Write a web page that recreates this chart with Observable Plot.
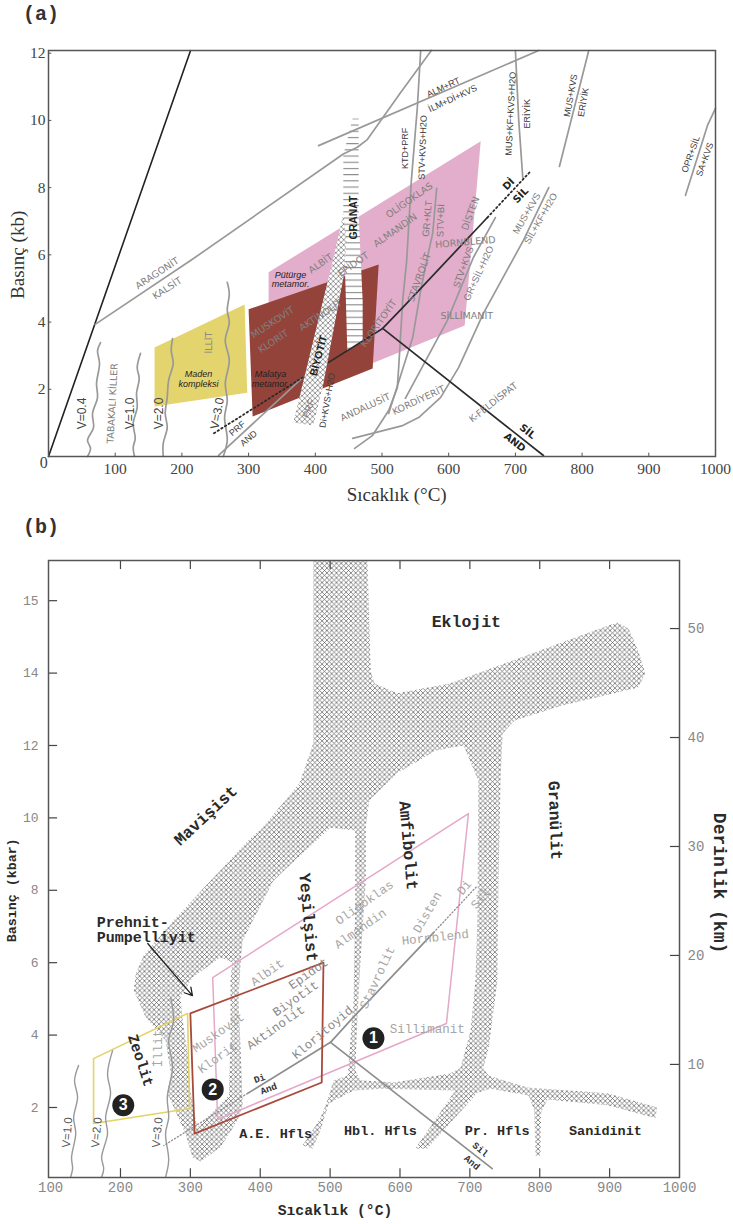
<!DOCTYPE html>
<html><head><meta charset="utf-8">
<script src="https://cdn.jsdelivr.net/npm/d3@7"></script>
<script src="https://cdn.jsdelivr.net/npm/@observablehq/plot@0.6"></script>
<style>
body{margin:0;background:#fff;width:733px;height:1224px;position:relative;overflow:hidden}
#a,#b{position:absolute;left:0}
#a{top:0}#b{top:510px}
.tag{position:absolute;left:23px;font:bold 20px "Liberation Mono",monospace;color:#333;line-height:22px}
</style></head><body>
<div id="a"></div><div id="b"></div>
<div class="tag" style="top:4px">(a)</div>
<div class="tag" style="top:517px">(b)</div>
<script>
// ---------- Panel (a): [T °C, P kb] ----------
const aXTicks=[100,200,300,400,500,600,700,800,900,1000];
const aYTicks=[2,4,6,8,10,12];
const aPink=[[330,5.48],[648,9.38],[624,3.9],[330,1.51]];
const aBrown=[[300,4.38],[495,5.71],[486,2.62],[306,1.19]];
const aYellow=[[159,3.24],[294,4.52],[298,1.9],[159,1.49]];
const aBiotite=[[367,1.01],[397,.92],[411,2.05],[442,5.3],[447,6.43],[442,7.23],[427,5.89]];
const aGarnet=[[456,10.06],[465,10.06],[465,7.17],[471,4.64],[471,3.45],[448,3.15],[445,5.24],[442,7.17],[442,8.96]];
const aBlackLine=[[0,0],[213,12.08]];
const aGrayLines=[
 [[70,3.93],[213,5.83],[442,9.0],[463,9.2],[478,9.43],[528,10.83],[574,12.08]],
 [[405,9.25],[735,12.08]],
 [[558,12.08],[553,10.39],[544,8.21],[537,5.83],[531,4.64],[525,2.65],[523,2.05],[510,1.37],[486,.63],[459,.24]],
 [[582,7.98],[576,6.64],[567,5.83],[558,4.94],[546,3.54],[528,2.41],[510,1.28]],
 [[670,7.11],[637,5.92],[598,4.05],[535,1.73]],
 [[750,8.0],[712,6.43],[652,4.26],[615,2.65],[588,1.76],[555,1.16],[531,.92],[456,.54]],
 [[700,12.08],[705,10.0],[711,8.3]],
 [[810,12.08],[766,8.63]],
 [[1000,10.36],[988,9.85],[955,7.77]],
 [[381,2.35],[255,.03]]
];
const aWaves=[
 [[78,3.39],[73.5,3.15],[76.5,2.77],[72,2.17],[73.5,1.76],[66,1.28],[67.5,.86],[58.5,.48],[63,.24],[58.5,0]],
 [[138,3.07],[133,2.65],[136,2.32],[132,1.88],[133,1.46],[127,.98],[130,.54],[127,.27],[129,0]],
 [[186,3.51],[184,3.15],[187,2.77],[180,2.26],[178,1.76],[175,1.28],[178,.86],[172,.39],[172,0]],
 [[268,5.18],[271,4.85],[268,4.35],[271,3.99],[265,3.45],[271,2.86],[265,2.17],[268,1.67],[264,1.16],[268,.48],[262,0]]
];
const aReactionBlack=[
 [[420,2.8],[501,3.81],[531,4.43],[658,7.11]],
 [[501,3.81],[742,.03]]
];
const aReactionDotted=[
 [[658,7.11],[721,8.45]],
 [[381,2.35],[247,.68]]
];
const aGrayText=[
 ["ARAGONİT",163,5.45,-33],["KALSİT",178,5.0,-33],["TABAKALI KİLLER",96,1.58,-87],["İLLİT",240,3.39,-90],
 ["MUSKOVİT",336,3.99,-33],["KLORİT",337,3.42,-33],["AKTİNOLİT",408,4.2,-33],["ALBİT",408,5.74,-35],
 ["EPİDOT",457,5.71,-35],["ALMANDİN",520,6.73,-35],["OLİGOKLAS",541,7.62,-35],["KLORİTOYİT",495,3.96,-55],
 ["ANDALUSİT",475,1.46,-25],["KORDİYERİT",555,1.67,-25],["K-FELDİSPAT",667,1.61,-38],["SİLLİMANİT",627,4.17,0],
 ["STAVROLİT",556,5.33,-70],["DİSTEN",633,7.23,-70],["HORNBLEND",625,6.37,-5]
];
const aNarrowGray=[
 ["GR+KLT",568,7.08,-85],["STV+Bİ",588,7.02,-88],["STV+KVS",622,5.63,-70],["GR+SİL+H2O",645,5.45,-65],
 ["MUS+KVS",717,7.23,-60],["SİL+KF+H2O",738,7.08,-60],["PRF",390,1.43,-70]
];
const aVText=[["V=0.4",51,1.28,-90],["V=1.0",122,1.28,-90],["V=2.0",166,1.28,-90],["V=3.0",253,1.28,-80]];
const aDarkText=[
 ["Di+KVS+H2O",418,1.67,-80],["PRF",283,.83,-40],["AND",300,.54,-40],
 ["KTD+PRF",535,9.17,-90],["STV+KVS+H2O",561,9.2,-88],["ALM+RT",592,10.98,-25],["İLM+Dİ+KVS",606,10.65,-25],
 ["MUS+KF+KVS+H2O",693,10.2,-87],["ERİYİK",717,10.2,-90],["MUS+KVS",783,10.74,-80],["ERİYİK",802,10.54,-80],
 ["OPR+SİL",963,8.99,-70],["SA+KVS",984,8.84,-70]
];
const aBandText=[["BİYOTİT",405,3.0,-75],["GRANAT",457,7.11,-90]];
const aBoldText=[["Dİ",690,8.1,-45],["SİL",708,7.77,-45],["SİL",718,.74,38],["AND",699,.42,38]];
const aItalicText=[["Maden\nkompleksi",225,2.32,0],["Malatya\nmetamor.",333,2.3,0],["Pütürge\nmetamor.",363,5.27,0]];
const aAxisTitles=[["Sıcaklık (°C)",522,-1.13,0],["Basınç (kb)",-46,6,-90]];
const aZero=[["0",-7,-.2,0]];

// ---------- Panel (b): [T °C, P kbar] ----------
const bXTicks=[100,200,300,400,500,600,700,800,900,1000];
const bInnerXTicks=[200,300,400,500,600,700,800,900];
const bYTicks=[2,4,6,8,10,12,14,16];
const bYLabels=[2,4,6,8,10,12,14,15];
const bDepthLabels=[10,20,30,40,50];
const bDepthAtP=[3.19,6.2,9.21,12.22,15.23];
const bHatch=[[476,17.11],[553.5,17.11],[558,14.07],[563.5,13.71],[596,13.44],[671,13.71],[897,15.31],[911,15.4],[927,15.23],[941,14.62],[951,13.99],[941,13.6],[831,13.1],[764,12.69],[747,12.33],[744,11.12],[741,8.27],[739.5,5.51],[727,3.66],[719,3.08],[727,2.88],[782,2.55],[897,2.39],[968,2.0],[965.5,1.7],[897,2.06],[811,2.22],[802,1.86],[801,.67],[794,.67],[792,1.92],[784,2.33],[729.5,2.52],[711,2.41],[639,.87],[622,.87],[679,2.47],[576,2.52],[533.5,2.47],[498,2.11],[486,1.36],[475,.87],[460.5,.95],[486,1.7],[496,2.19],[505,2.75],[525,2.88],[529,3.85],[533.5,4.96],[536,7.72],[536,9.65],[500.5,9.73],[476,9.29],[419,8.27],[375,6.61],[372,6.06],[369,4.96],[372,3.57],[375,2.06],[367.5,1.64],[343,.9],[314.6,.51],[303,.62],[293,1.28],[267,2.39],[272,2.94],[264.5,3.85],[236,4.49],[219,5.23],[222,5.7],[233,6.2],[276,7.17],[383,9.38],[403,9.73],[456,10.95],[476,12.06]];
const bHoleLeft=[[343,6.14],[360,6.01],[357.5,5.51],[357.5,3.85],[355,2.33],[310,1.45],[300,2.47],[296,3.49],[289,4.4],[286,5.04],[303,5.59]];
const bHoleAmphibolite=[[691,12.0],[651,11.86],[596,11.23],[556,10.48],[551,9.73],[551,8.27],[543.5,6.06],[539,4.4],[536,3.02],[543.5,2.75],[591,2.69],[672,2.94],[686.5,3.1],[701,4.13],[708,5.51],[711,7.36],[712,11.03]];
const bYellow=[[161.5,3.35],[296,4.6],[299,1.97],[161.5,1.56]];
const bBrown=[[300,4.6],[490.5,6.0],[488,2.69],[306,1.28]];
const bPink=[[332,5.59],[698,10.12],[666.5,4.32],[339,1.67]];
const bSolid=[
 [[382,2.39],[500.6,3.8],[533,4.49],[648,6.83]],
 [[500.6,3.8],[732,.31]]
];
const bDotted=[
 [[648,6.83],[711,8.13]],
 [[382,2.39],[262,.95]]
];
const bWaves=[
 [[140,3.16],[134.3,2.75],[138.6,2.28],[133,1.72],[136,1.28],[130,.62],[131.5,.31],[128.6,.07]],
 [[188.7,3.57],[181.5,2.94],[185.8,2.39],[178.7,1.72],[181.5,1.28],[173,.62],[176,.31],[173,.07]],
 [[271.7,5.04],[276,4.4],[269,3.85],[274.5,3.1],[267,2.28],[269,1.72],[264.5,1.28],[269,.54],[264.5,.07]]
];
const bArrow=[[239,6.53,303,5.09]];
const bBigText=[["Eklojit",695,15.43,0],["Mavişist",322,10.07,-43],["Amfibolit",612,9.24,85],["Granülit",822,9.93,88],["Yeşilşist",469,7.25,85]];
const bMidText=[["Zeolit",229,3.3,72]];
const bZoneText=[["A.E. Hfls",422,1.28,0],["Hbl. Hfls",572,1.36,0],["Pr. Hfls",739,1.36,0],["Sanidinit",894,1.36,0]];
const bPrehnite=[["Prehnit-\nPumpelliyit",166,6.92,0]];
const bSmallBold=[["Sil",715,.84,40],["And",703,.48,40],["Di",399,2.8,-20],["And",412,2.52,-20]];
const bGrayText=[
 ["Albit",410,5.73,-35],["Muskovit",340,4.07,-35],["Klorit",339,3.38,-35],
 ["Oligoklas",549,7.66,-35],["Almandin",543,6.94,-35],["Stavrolit",567.5,5.59,-65],["Hornblend",650.5,6.7,-6],
 ["Disten",639,7.39,-60],["Di",692,8.08,-50],["Sil",715,7.77,-50],["Sillimanit",639,4.18,0],["İllit",253,3.63,-90]
];
const bMidGrayText=[["Aktinolit",422,4.21,-35],["Biyotit",450.5,5.01,-35],["Epidot",469,5.7,-35],["Kloritoyid",489,4.07,-40]];
const bVText=[["V=1.0",124,1.31,-85],["V=2.0",166,1.31,-85],["V=3.0",253,1.31,-85]];
const bBadges=[["1",562,3.91],["2",332,2.5],["3",204,2.06]];
const bXTitle=[["Sıcaklık (°C)",507,-.85,0]];
const bYTitle=[["Basınç (kbar)",45,8.0,-90]];
const bDepthTitle=[["Derinlik (km)",1058,8.2,90]];

const SANS='"Liberation Sans",Arial,sans-serif', MONO='"Liberation Mono",monospace', SERIF='"Liberation Serif",serif', WIDE='"DejaVu Sans",sans-serif';
const label=(rows,o)=>Plot.text(rows,{x:d=>d[1],y:d=>d[2],text:d=>d[0],rotate:d=>d[3],...o});
const poly=(pts,o)=>Plot.line(pts,{curve:"linear-closed",...o});
const series=(list,o)=>list.map(pts=>Plot.line(pts,o));
const defs=()=>{
  const g=d3.create("svg:defs");
  const hatch=(id,s,col,w)=>{
    const p=g.append("svg:pattern").attr("id",id).attr("patternUnits","userSpaceOnUse").attr("width",s).attr("height",s);
    p.append("svg:rect").attr("width",s).attr("height",s).attr("fill","#fff");
    p.append("svg:path").attr("d",`M0 0L${s} ${s}M${s} 0L0 ${s}`).attr("stroke",col).attr("stroke-width",w);
  };
  hatch("hatchA",5.2,"#888",.85);
  hatch("hatchB",4.8,"#6e6e6e",.8);
  const st=g.append("svg:pattern").attr("id","stripes").attr("patternUnits","userSpaceOnUse").attr("width",8).attr("height",6.2);
  st.append("svg:rect").attr("width",8).attr("height",6.2).attr("fill","#fff");
  st.append("svg:rect").attr("width",8).attr("height",1.1).attr("fill","#888");
  return g.node();
};

const plotA=Plot.plot({
  width:733,height:510,marginLeft:48,marginRight:18,marginTop:50,marginBottom:54,
  x:{domain:[0,1000]},y:{domain:[0,12.08]},
  style:{fontFamily:SANS,background:"transparent",overflow:"visible"},
  marks:[
    defs,
    poly(aPink,{fill:"#e2aecb",stroke:"none"}),
    poly(aBrown,{fill:"#93433a",stroke:"none"}),
    poly(aYellow,{fill:"#e4d46e",stroke:"none"}),
    poly(aGarnet,{fill:"url(#stripes)",stroke:"none"}),
    poly(aBiotite,{fill:"url(#hatchA)",stroke:"none"}),
    Plot.line(aBlackLine,{stroke:"#222",strokeWidth:1.6}),
    ...series(aGrayLines,{stroke:"#999",strokeWidth:1.7}),
    ...series(aWaves,{stroke:"#999",strokeWidth:1.7,curve:"catmull-rom"}),
    ...series(aReactionBlack,{stroke:"#2b2b2b",strokeWidth:1.7}),
    ...series(aReactionDotted,{stroke:"#2b2b2b",strokeWidth:1.8,strokeDasharray:"1.5 2.8"}),
    label(aGrayText,{fill:"#808080",fontSize:9.5,fontFamily:WIDE}),
    label(aNarrowGray,{fill:"#7c7c7c",fontSize:9.5}),
    label(aVText,{fill:"#444",fontSize:12}),
    label(aDarkText,{fill:"#3a3a3a",fontSize:9}),
    label(aBandText,{fill:"#222",fontSize:10.5,fontWeight:"bold"}),
    label(aBoldText,{fill:"#222",fontSize:10,fontWeight:"bold",fontFamily:WIDE}),
    label(aItalicText,{fill:"#222",fontSize:9,fontStyle:"italic",lineHeight:1.1}),
    label(aAxisTitles,{fill:"#333",fontSize:19,fontFamily:SERIF}),
    label(aZero,{fill:"#444",fontSize:16,fontFamily:SERIF}),
    Plot.ruleX(aXTicks,{x:d=>d,y1:0,y2:.1,stroke:"#555"}),
    Plot.ruleY(aYTicks,{y:d=>d,x1:0,x2:5,stroke:"#555"}),
    Plot.axisX({ticks:aXTicks,tickFormat:d=>String(d),tickSize:0,tickPadding:6,label:null,color:"#444",fontSize:15.5,fontFamily:SERIF}),
    Plot.axisY({ticks:aYTicks,tickFormat:d=>String(d),tickSize:0,tickPadding:3,label:null,color:"#444",fontSize:15.5,fontFamily:SERIF}),
    Plot.frame({stroke:"#555",strokeWidth:1.5})
  ]
});
document.getElementById("a").append(plotA);

const plotB=Plot.plot({
  width:733,height:714,marginLeft:48,marginRight:54,marginTop:50,marginBottom:47,
  x:{domain:[97,1000]},y:{domain:[.066,17.11]},
  style:{fontFamily:MONO,background:"transparent",overflow:"visible"},
  marks:[
    poly(bHatch,{fill:"url(#hatchB)",stroke:"none"}),
    poly(bHoleLeft,{fill:"#fff",stroke:"none"}),
    poly(bHoleAmphibolite,{fill:"#fff",stroke:"none"}),
    poly(bPink,{stroke:"#e4a8c8",strokeWidth:1.5}),
    poly(bYellow,{stroke:"#e3d264",strokeWidth:1.6}),
    ...series(bWaves,{stroke:"#999",strokeWidth:1.4,curve:"catmull-rom"}),
    ...series(bSolid,{stroke:"#8e8e8e",strokeWidth:1.7}),
    ...series(bDotted,{stroke:"#8e8e8e",strokeWidth:1.3,strokeDasharray:"1.2 2.2"}),
    poly(bBrown,{stroke:"#a8493a",strokeWidth:1.8}),
    label(bGrayText,{fill:"#a6a6a6",fontSize:12.5}),
    label(bMidGrayText,{fill:"#8a8a8a",fontSize:12.5}),
    label(bVText,{fill:"#555",fontSize:11.5,fontFamily:SANS}),
    label(bBigText,{fill:"#2a2a2a",fontSize:16.5,fontWeight:"bold"}),
    label(bMidText,{fill:"#2a2a2a",fontSize:15,fontWeight:"bold"}),
    label(bZoneText,{fill:"#2a2a2a",fontSize:13.5,fontWeight:"bold"}),
    label(bPrehnite,{fill:"#2a2a2a",fontSize:15,fontWeight:"bold",textAnchor:"start",lineHeight:1.05}),
    label(bSmallBold,{fill:"#333",fontSize:9.5,fontWeight:"bold"}),
    Plot.arrow(bArrow,{x1:d=>d[0],y1:d=>d[1],x2:d=>d[2],y2:d=>d[3],bend:0,stroke:"#222",strokeWidth:1.3,headLength:10}),
    Plot.dot(bBadges,{x:d=>d[1],y:d=>d[2],r:11,fill:"#222",stroke:"none"}),
    Plot.text(bBadges,{x:d=>d[1],y:d=>d[2],text:d=>d[0],fill:"#fff",fontSize:16,fontWeight:"bold",fontFamily:SANS}),
    label(bXTitle,{fill:"#2a2a2a",fontSize:14.7,fontWeight:"bold"}),
    label(bYTitle,{fill:"#2a2a2a",fontSize:13.3,fontWeight:"bold"}),
    label(bDepthTitle,{fill:"#2a2a2a",fontSize:18,fontWeight:"bold"}),
    Plot.ruleX(bInnerXTicks,{x:d=>d,y1:.066,y2:.31,stroke:"#444",strokeWidth:1.2}),
    Plot.ruleX(bInnerXTicks,{x:d=>d,y1:16.86,y2:17.11,stroke:"#444",strokeWidth:1.2}),
    Plot.ruleY(bYTicks,{y:d=>d,x1:97,x2:110,stroke:"#444",strokeWidth:1.2}),
    Plot.ruleY(bDepthAtP,{y:d=>d,x1:987,x2:1000,stroke:"#444",strokeWidth:1.2}),
    Plot.axisX({ticks:bXTicks,tickFormat:d=>String(d),tickSize:0,tickPadding:5,label:null,color:"#888",fontSize:14,fontFamily:MONO}),
    Plot.axisY({ticks:bYTicks,tickFormat:d=>bYLabels[bYTicks.indexOf(d)],tickSize:0,tickPadding:10,label:null,color:"#888",fontSize:13,fontFamily:MONO}),
    Plot.axisY({anchor:"right",ticks:bDepthAtP,tickFormat:d=>bDepthLabels[bDepthAtP.indexOf(d)],tickSize:0,tickPadding:8,label:null,color:"#888",fontSize:14,fontFamily:MONO}),
    Plot.frame({stroke:"#555",strokeWidth:1.5})
  ]
});
document.getElementById("b").append(plotB);
</script>
</body></html>
